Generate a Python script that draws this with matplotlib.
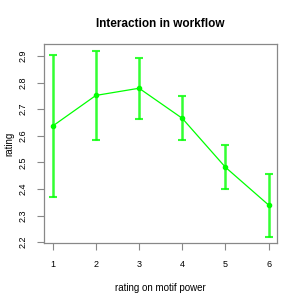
import numpy as np
import matplotlib
matplotlib.use("Agg")
import matplotlib.pyplot as plt

plt.rcParams["font.family"] = ["Liberation Sans", "DejaVu Sans"]

# motif power rating vs mean interaction rating, with error bars
power = [1, 2, 3, 4, 5, 6]
rating = [2.637, 2.752, 2.779, 2.666, 2.482, 2.340]
lower = [2.370, 2.586, 2.663, 2.583, 2.400, 2.221]
upper = [2.903, 2.918, 2.894, 2.748, 2.564, 2.456]

green = "#00ff00"
gray = "#888888"

fig = plt.figure(figsize=(3, 3), dpi=100)
ax = fig.add_axes([0.147, 0.19, 0.777, 0.663])

err = [np.array(rating) - np.array(lower), np.array(upper) - np.array(rating)]
ax.errorbar(power, rating, yerr=err, fmt="none", ecolor=green, elinewidth=1.8,
            capsize=2.6, capthick=1.5, alpha=0.8)
ax.plot(power, rating, "-o", color=green, lw=0.9, ms=3)

ax.set_xlim(0.8, 6.2)
ax.set_ylim(2.197, 2.945)
ax.set_xticks(power)
ax.set_yticks([2.2, 2.3, 2.4, 2.5, 2.6, 2.7, 2.8, 2.9])
ax.set_yticklabels(["2.2", "2.3", "2.4", "2.5", "2.6", "2.7", "2.8", "2.9"],
                   rotation=90, va="center")

for s in ax.spines.values():
    s.set_color(gray)
    s.set_linewidth(0.9)
ax.tick_params(colors=gray, labelcolor="black", labelsize=6.5, length=5, width=0.8)
ax.tick_params(axis="x", pad=7)
ax.tick_params(axis="y", pad=7)

ax.set_title("Interaction in workflow", fontsize=8.5, fontweight="bold", pad=12)
ax.set_xlabel("rating on motif power", fontsize=7, labelpad=10)
ax.set_ylabel("rating", fontsize=7, va="center")
ax.yaxis.set_label_coords(-0.148, 0.5)

fig.savefig("out.png", dpi=100)
